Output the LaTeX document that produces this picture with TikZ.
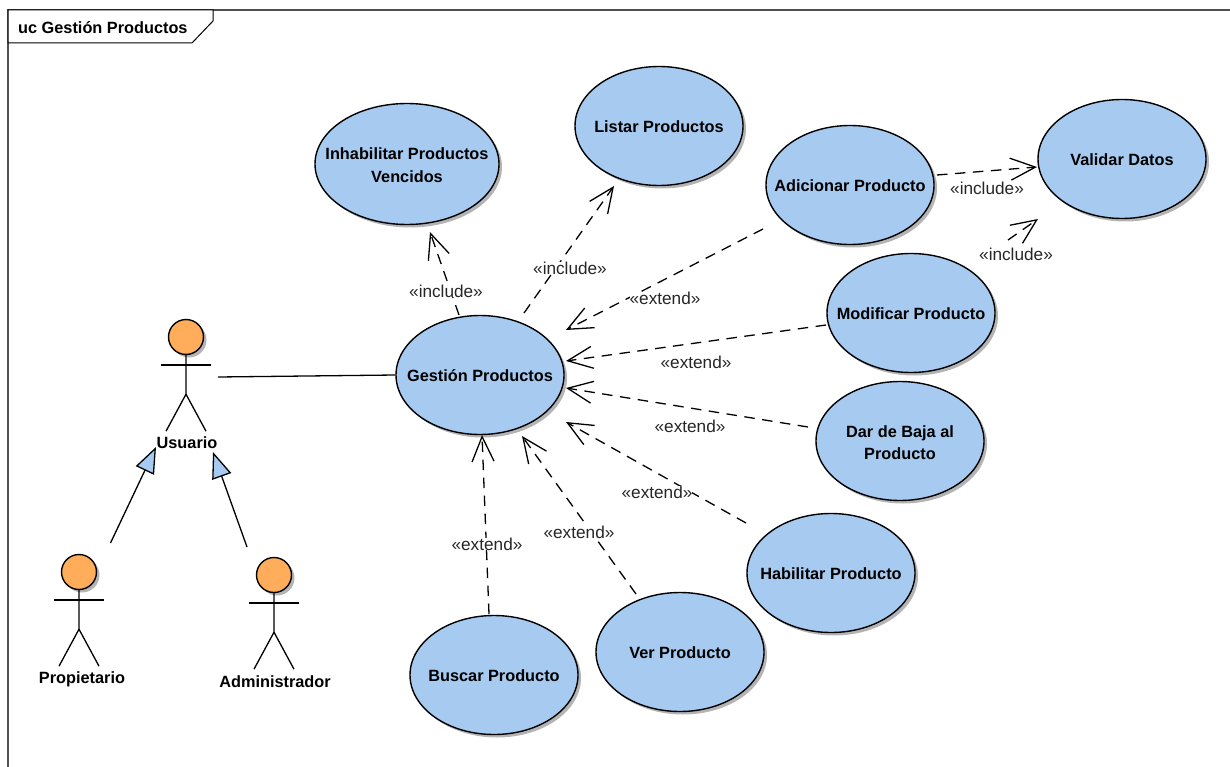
\documentclass[tikz,border=0pt]{standalone}
\usepackage{fontspec}
\setmainfont{Liberation Sans}
\usetikzlibrary{arrows.meta,shadows,calc,shapes.geometric}
\definecolor{ucblue}{HTML}{A6CAF0}
\definecolor{ucorange}{HTML}{FFAD5B}
\definecolor{ucshadow}{HTML}{B4B4B4}
\definecolor{ucframe}{HTML}{505050}
\tikzset{
  ucase/.style={draw=black,fill=ucblue,ellipse,line width=1.4pt,inner sep=0pt,
    minimum width=168pt,minimum height=119pt,
    font=\fontsize{16.3}{22.5}\selectfont\bfseries,
    general shadow={shadow xshift=3pt,shadow yshift=-3pt,fill=ucshadow}},
  uchead/.style={draw=black,fill=ucorange,circle,line width=1.4pt,inner sep=0pt,
    minimum size=35pt,
    general shadow={shadow xshift=3pt,shadow yshift=-3pt,fill=ucshadow}},
  ucname/.style={font=\fontsize{16.3}{20}\selectfont\bfseries,inner sep=0pt},
  ucstereo/.style={font=\fontsize{17.2}{20}\selectfont,text=black!85,fill=white,inner sep=0pt},
  ucbody/.style={line width=1.3pt},
  ucdep/.style={line width=1.3pt,dash pattern=on 10.5pt off 7.5pt,
    -{Straight Barb[length=25pt,width=22pt,line width=1.3pt]}},
  ucassoc/.style={line width=1.3pt},
  ucgen/.style={line width=1.3pt,-{Triangle[length=26pt,width=20pt,fill=ucblue,line width=1.3pt]}},
}
\newcommand{\ucl}[1]{\raisebox{-6.5pt}[0pt][0pt]{\makebox[0pt]{#1}}}
\newcommand{\ucll}[2]{\raisebox{4pt}[0pt][0pt]{\makebox[0pt]{#1}}\raisebox{-18.5pt}[0pt][0pt]{\makebox[0pt]{#2}}}
% #1 name, #2 x, #3 y of head centre, #4 label, #5 label dx, #6 label dy
\newcommand{\ucactor}[6]{%
  \node[uchead] (#1) at (#2,#3) {};
  \draw[ucbody] (#1.south) -- ++(0,39) coordinate (#1hip)
    -- ++(-20,37);
  \draw[ucbody] (#1hip) -- ++(20,37);
  \draw[ucbody] ($(#1)+(-25,28)$) -- ($(#1)+(25,28)$);
  \node[ucname] (#1name) at ($(#1)+(#5,#6)$) {#4};
}
\begin{document}
\begin{tikzpicture}[x=1pt,y=-1pt]
\useasboundingbox (0,0) rectangle (1230,767);
% frame
\draw[ucframe,line width=1.2pt] (8,767) -- (8,10) -- (1230,10);
\draw[black,line width=1pt,fill=white] (8,10) -- (213,10) -- (213,21) -- (192,43) -- (8,43) -- cycle;
\node[ucname,anchor=west] (title) at (18,27.5) {uc Gestión Productos};
% use cases
\node[ucase,minimum width=184pt,minimum height=121pt] (inh) at (407,164) {\ucll{Inhabilitar Productos}{Vencidos}};
\node[ucase] (list) at (659,126) {\ucl{Listar Productos}};
\node[ucase] (add) at (850,185) {\ucl{Adicionar Producto}};
\node[ucase] (val) at (1122,159) {\ucl{Validar Datos}};
\node[ucase] (mod) at (911,313) {\ucl{Modificar Producto}};
\node[ucase] (baja) at (900,441) {\ucll{Dar de Baja al}{Producto}};
\node[ucase] (hab) at (831,573) {\ucl{Habilitar Producto}};
\node[ucase] (ver) at (680,652) {\ucl{Ver Producto}};
\node[ucase] (bus) at (494,675) {\ucl{Buscar Producto}};
\node[ucase] (g) at (480,375) {\ucl{Gestión Productos}};
% actors
\ucactor{usu}{186}{337}{Usuario}{1}{106}
\ucactor{pro}{79}{572}{Propietario}{3}{107.5}
\ucactor{adm}{274}{575}{Administrador}{1}{107}
% association and generalisations
\draw[ucassoc] ($(usu)+(32,40)$) -- (g.west);
\draw[ucgen] ($(pro)+(31.5,-29)$) -- ($(usu)+(-30,110)$);
\draw[ucgen] ($(adm)+(-27,-28)$) -- ($(usu)+(27,115)$);
% dependencies
\draw[ucdep] ($(g)+(-21,-60)$) -- ($(inh)+(23,68)$);
\draw[ucdep] ($(g)+(44,-62)$) -- ($(list)+(-45,60)$);
\draw[ucdep] ($(add)+(-87,44)$) -- ($(g)+(86,-45)$);
\draw[ucdep] ($(mod)+(-85,12)$) -- ($(g)+(86,-14)$);
\draw[ucdep] ($(baja)+(-92,-14)$) -- ($(g)+(86,13)$);
\draw[ucdep] ($(hab)+(-85,-50)$) -- ($(g)+(86,47)$);
\draw[ucdep] ($(ver)+(-44,-58)$) -- ($(g)+(42,61)$);
\draw[ucdep] ($(bus)+(-5,-61)$) -- ($(g)+(2,60)$);
\draw[ucdep] ($(add)+(87,-10)$) -- ($(val)+(-85,8)$);
\draw[ucdep] ($(mod)+(97,-73)$) -- ($(val)+(-84,60)$);
% stereotypes
\node[ucstereo] (s1) at (446,291) {«include»};
\node[ucstereo] (s2) at (570,268) {«include»};
\node[ucstereo] (s3) at (665,298) {«extend»};
\node[ucstereo] (s4) at (696,362) {«extend»};
\node[ucstereo] (s5) at (690,426) {«extend»};
\node[ucstereo] (s6) at (657,492) {«extend»};
\node[ucstereo] (s7) at (579,532) {«extend»};
\node[ucstereo] (s8) at (487,544) {«extend»};
\node[ucstereo] (s9) at (987,188) {«include»};
\node[ucstereo] (s10) at (1016,254) {«include»};
\end{tikzpicture}
\end{document}
